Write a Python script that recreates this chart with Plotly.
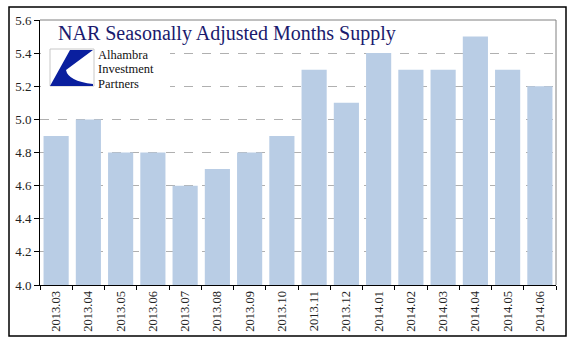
import plotly.graph_objects as go

categories = ["2013.03", "2013.04", "2013.05", "2013.06", "2013.07", "2013.08", "2013.09", "2013.10",
              "2013.11", "2013.12", "2014.01", "2014.02", "2014.03", "2014.04", "2014.05", "2014.06"]
months_supply = [4.9, 5.0, 4.8, 4.8, 4.6, 4.7, 4.8, 4.9, 5.3, 5.1, 5.4, 5.3, 5.3, 5.5, 5.3, 5.2]
y_ticks = [4.0, 4.2, 4.4, 4.6, 4.8, 5.0, 5.2, 5.4, 5.6]

W, H = 577, 341
L, R, T, B = 40, 556, 20, 285


def px(x):
    return (x - L) / (R - L)


def py(y):
    return (B - y) / (B - T)


fig = go.Figure(go.Bar(x=categories, y=months_supply, marker=dict(color="#b9cde5", line=dict(width=0))))

serif = "Liberation Serif, Times New Roman, serif"

shapes = [
    # outer frame
    dict(type="rect", xref="paper", yref="paper", x0=px(9), x1=px(566), y0=py(336), y1=py(7),
         line=dict(color="black", width=1.5), fillcolor="rgba(0,0,0,0)", layer="above"),
    # top and right gray frame lines
    dict(type="line", xref="paper", yref="paper", x0=0, x1=1, y0=1, y1=1,
         line=dict(color="#808080", width=1), layer="above"),
    dict(type="line", xref="paper", yref="paper", x0=1, x1=1, y0=0, y1=1,
         line=dict(color="#808080", width=1), layer="above"),
    # white background behind logo
    dict(type="rect", xref="paper", yref="paper", x0=px(41), x1=px(170), y0=py(91), y1=py(45),
         line=dict(width=0), fillcolor="white", layer="above"),
    # logo box
    dict(type="rect", xref="paper", yref="paper", x0=px(50), x1=px(94), y0=py(86), y1=py(49),
         line=dict(color="#c8c8c8", width=1), fillcolor="white", layer="above"),
]
path = "M {},{} L {},{} L {},{} Q {},{} {},{} L {},{} L {},{} Z".format(
    px(70), py(50), px(93), py(50), px(66), py(70),
    px(68), py(81), px(93), py(84), px(93), py(86), px(50), py(86))
shapes.append(dict(type="path", xref="paper", yref="paper", path=path,
                   fillcolor="#0a1f9e", line=dict(width=0), layer="above"))

annotations = [
    dict(text="NAR Seasonally Adjusted Months Supply", xref="paper", yref="paper",
         x=px(56), y=py(33), xanchor="left", yanchor="middle", showarrow=False,
         font=dict(family=serif, size=20, color="#1a1a6e")),
]
for txt, yy in [("Alhambra", 55), ("Investment", 69.5), ("Partners", 84)]:
    annotations.append(dict(text=txt, xref="paper", yref="paper", x=px(96), y=py(yy),
                            xanchor="left", yanchor="middle", showarrow=False,
                            font=dict(family=serif, size=12.5, color="#111111")))

fig.update_layout(
    width=W, height=H,
    margin=dict(l=L, r=W - R, t=T, b=H - B, autoexpand=False),
    paper_bgcolor="white", plot_bgcolor="white",
    bargap=0.22,
    showlegend=False,
    shapes=shapes,
    annotations=annotations,
    xaxis=dict(
        type="category", tickangle=-90, tickson="boundaries", automargin=False,
        ticks="outside", ticklen=4, tickcolor="black",
        showline=True, linecolor="black", linewidth=1,
        showgrid=False,
        tickfont=dict(family=serif, size=12.5, color="#222222"),
    ),
    yaxis=dict(
        range=[4.0, 5.6], tickvals=y_ticks, ticktext=["%.1f" % v for v in y_ticks],
        automargin=False,
        ticks="outside", ticklen=5, tickcolor="black",
        showline=True, linecolor="black", linewidth=1,
        showgrid=True, gridcolor="#b0b0b0", griddash="dash", gridwidth=1,
        zeroline=False,
        tickfont=dict(family=serif, size=13, color="#222222"),
    ),
)

fig.write_html("out.html")
